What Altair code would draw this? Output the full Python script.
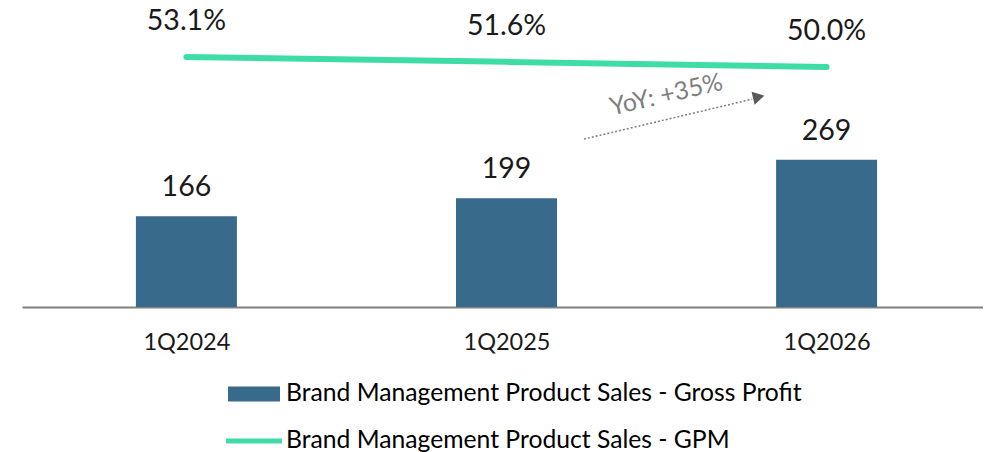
import altair as alt
import pandas as pd

categories = ["1Q2024", "1Q2025", "1Q2026"]
gross_profit = [166, 199, 269]
gpm = [53.1, 51.6, 50.0]
bar_series = "Brand Management Product Sales - Gross Profit"
line_series = "Brand Management Product Sales - GPM"
yoy_text = "YoY: +35%"

df = pd.DataFrame({
    "idx": list(range(len(categories))),
    "quarter": categories,
    "gp": gross_profit,
    "gpm": gpm,
    "gpm_label": [f"{v:.1f}%" for v in gpm],
    "sb": [bar_series] * 3,
    "sl": [line_series] * 3,
})

# annotation arrow (positions in data units of x index / bar scale)
arrow_df = pd.DataFrame({"x": [1.242], "x2": [1.768], "y": [307], "y2": [380]})
head_df = pd.DataFrame({"x": [1.788], "y": [384]})
yoy_df = pd.DataFrame({"x": [1.499], "y": [388], "t": [yoy_text]})

FONT = "Lato"
BAR_COLOR = "#386A8C"
LINE_COLOR = "#3EDDA6"

x_scale = alt.Scale(domain=[-0.498, 2.473], nice=False, zero=False)
y_bar_scale = alt.Scale(domain=[0, 546.6], nice=False, zero=True)
y_line_scale = alt.Scale(domain=[-24.4, 68.3], nice=False, zero=False)

label_expr = "[" + ",".join(f"'{c}'" for c in categories) + "][datum.value]"
x_enc = alt.X("idx:Q", scale=x_scale, title=None,
              axis=alt.Axis(values=[0, 1, 2], labelExpr=label_expr, ticks=False, grid=False,
                            domainColor="#808080", domainWidth=2, labelFont=FONT,
                            labelFontSize=23.5, labelColor="#1a1a1a", labelPadding=23))

base = alt.Chart(df)

bars = base.mark_bar(size=101).encode(
    x=x_enc,
    y=alt.Y("gp:Q", scale=y_bar_scale, axis=None),
    fill=alt.Fill("sb:N", scale=alt.Scale(domain=[bar_series], range=[BAR_COLOR]),
                  legend=alt.Legend(title=None, orient="none", legendX=206, legendY=360, padding=0,
                                    symbolType="M-1,-0.29H1V0.29H-1Z", symbolSize=2704,
                                    symbolStrokeWidth=0, labelFont=FONT, labelFontSize=24.7,
                                    labelColor="#000000", labelOffset=6, labelLimit=800)),
)

bar_text = base.mark_text(font=FONT, fontSize=28.5, color="#1a1a1a", baseline="alphabetic", dy=-20).encode(
    x=alt.X("idx:Q", scale=x_scale),
    y=alt.Y("gp:Q", scale=y_bar_scale, axis=None),
    text="gp:Q",
)

line = base.mark_line(strokeWidth=6, strokeCap="round").encode(
    x=alt.X("idx:Q", scale=x_scale),
    y=alt.Y("gpm:Q", scale=y_line_scale, axis=None),
    stroke=alt.Stroke("sl:N", scale=alt.Scale(domain=[line_series], range=[LINE_COLOR]),
                      legend=alt.Legend(title=None, orient="none", legendX=201.5, legendY=402.5, padding=0,
                                        symbolType="stroke", symbolSize=3136, symbolStrokeWidth=5,
                                        labelFont=FONT, labelFontSize=24.7, labelColor="#000000",
                                        labelOffset=1.5, labelLimit=800)),
)

line_text = base.mark_text(font=FONT, fontSize=28.5, color="#1a1a1a", baseline="middle", dy=-36).encode(
    x=alt.X("idx:Q", scale=x_scale),
    y=alt.Y("gpm:Q", scale=y_line_scale, axis=None),
    text="gpm_label:N",
)

arrow = alt.Chart(arrow_df).mark_rule(color="#7f7f7f", strokeWidth=1.5, strokeDash=[2, 2]).encode(
    x=alt.X("x:Q", scale=x_scale), x2="x2:Q",
    y=alt.Y("y:Q", scale=y_bar_scale, axis=None), y2="y2:Q",
)

head = alt.Chart(head_df).mark_point(shape="triangle-right", filled=True, size=180, color="#595959",
                                     opacity=1, angle=347).encode(
    x=alt.X("x:Q", scale=x_scale),
    y=alt.Y("y:Q", scale=y_bar_scale, axis=None),
)

yoy = alt.Chart(yoy_df).mark_text(font=FONT, fontSize=25, color="#7f7f7f", angle=347,
                                   baseline="middle", align="center").encode(
    x=alt.X("x:Q", scale=x_scale),
    y=alt.Y("y:Q", scale=y_bar_scale, axis=None),
    text="t:N",
)

chart = alt.layer(bars, bar_text, line, line_text, arrow, head, yoy).resolve_scale(
    y="independent"
).properties(
    width=961, height=299,
    padding={"left": 14, "top": 0, "right": 0, "bottom": 150},
    autosize=alt.AutoSizeParams(type="none"),
).configure_view(stroke=None)

chart.save("out.html", embed_options={"renderer": "svg", "actions": False})
